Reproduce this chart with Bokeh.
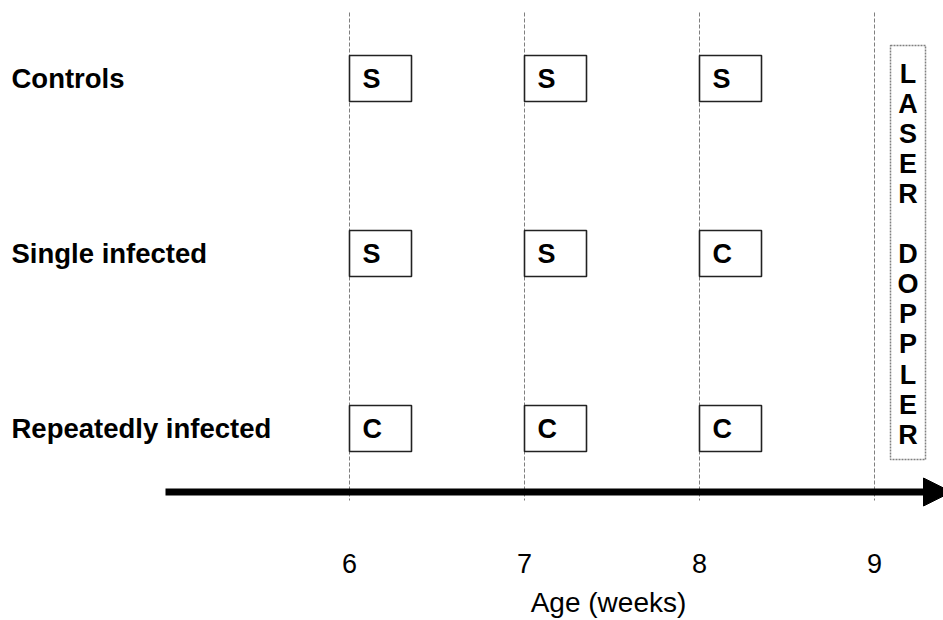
from bokeh.plotting import figure
from bokeh.models import Range1d, Arrow, NormalHead
from bokeh.core.properties import value
from bokeh.embed import file_html
from bokeh.resources import INLINE

# ---- data ----
groups = ["Controls", "Single infected", "Repeatedly infected"]
exam_weeks = [6, 7, 8]
codes = {
    "Controls": ["S", "S", "S"],
    "Single infected": ["S", "S", "C"],
    "Repeatedly infected": ["C", "C", "C"],
}
tick_weeks = [6, 7, 8, 9]
tick_labels = ["6", "7", "8", "9"]
laser_week = 9
laser_words = ["LASER", "DOPPLER"]
x_title = "Age (weeks)"

# ---- layout (rows measured downward, 1 row = 175 px = 1 week) ----
W, H = 943, 620
PX = 175.0
X6 = 349.0   # pixel of week 6
R0 = 78.0    # pixel of first row
FONT = "Liberation Sans"

def xp(px):
    return 6 + (px - X6) / PX

def yp(py):
    return (py - R0) / PX

p = figure(width=W, height=H, output_backend="svg", toolbar_location=None,
           x_axis_type=None, y_axis_type=None, min_border=0,
           x_range=Range1d(xp(0), xp(W)),
           y_range=Range1d(yp(H), yp(0)))
p.outline_line_color = None
p.grid.visible = False
p.background_fill_color = "white"
p.border_fill_color = "white"

# dashed week lines
p.segment(x0=tick_weeks, x1=tick_weeks, y0=[yp(12)] * len(tick_weeks),
          y1=[yp(500)] * len(tick_weeks), line_color="#7f7f7f",
          line_width=1, line_dash="4 2")

# boxes
bw, bh = 62 / PX, 46 / PX
lefts, rights, tops, bottoms, letters, lx, ly = [], [], [], [], [], [], []
for r, g in enumerate(groups):
    for w, c in zip(exam_weeks, codes[g]):
        lefts.append(w); rights.append(w + bw)
        tops.append(r - bh / 2); bottoms.append(r + bh / 2)
        letters.append(c); lx.append(w); ly.append(r)
p.quad(left=lefts, right=rights, top=tops, bottom=bottoms,
       fill_color="white", line_color="#222222", line_width=1.6)
p.text(x=lx, y=ly, text=letters, x_offset=13, text_align="left",
       text_baseline="middle", text_font=value(FONT), text_font_style="bold",
       text_font_size="27px", text_color="black")

# group labels
p.text(x=[xp(11)] * len(groups), y=list(range(len(groups))), text=groups,
       text_align="left", text_baseline="middle", text_font=value(FONT),
       text_font_style="bold", text_font_size="27.5px", text_color="black")

# laser doppler dotted box
lx0 = xp(890)
lx1 = xp(925)
p.quad(left=[lx0], right=[lx1], top=[yp(45)], bottom=[yp(459)],
       fill_color=None, line_color="#808080", line_width=1.5, line_dash="2 1")
chars = list(" ".join(laser_words))
ys = [yp(73 + 30.1 * i) for i in range(len(chars))]
p.text(x=[(lx0 + lx1) / 2] * len(chars), y=ys, text=chars, text_align="center",
       text_baseline="middle", text_font=value(FONT), text_font_style="bold",
       text_font_size="27px", text_color="black")

# time arrow
ay = yp(491.5)
p.add_layout(Arrow(end=NormalHead(size=28, fill_color="black", line_color="black"),
                   x_start=xp(165), y_start=ay, x_end=xp(951), y_end=ay,
                   line_width=7, line_color="black"))

# tick labels
p.text(x=tick_weeks, y=[yp(563)] * len(tick_weeks), text=tick_labels,
       text_align="center", text_baseline="middle", text_font=value(FONT),
       text_font_size="27px", text_color="black")

# axis title
p.text(x=[xp(608)], y=[yp(602)], text=[x_title], text_align="center",
       text_baseline="middle", text_font=value(FONT),
       text_font_size="28px", text_color="black")

open("out.html", "w").write(file_html(p, INLINE))
